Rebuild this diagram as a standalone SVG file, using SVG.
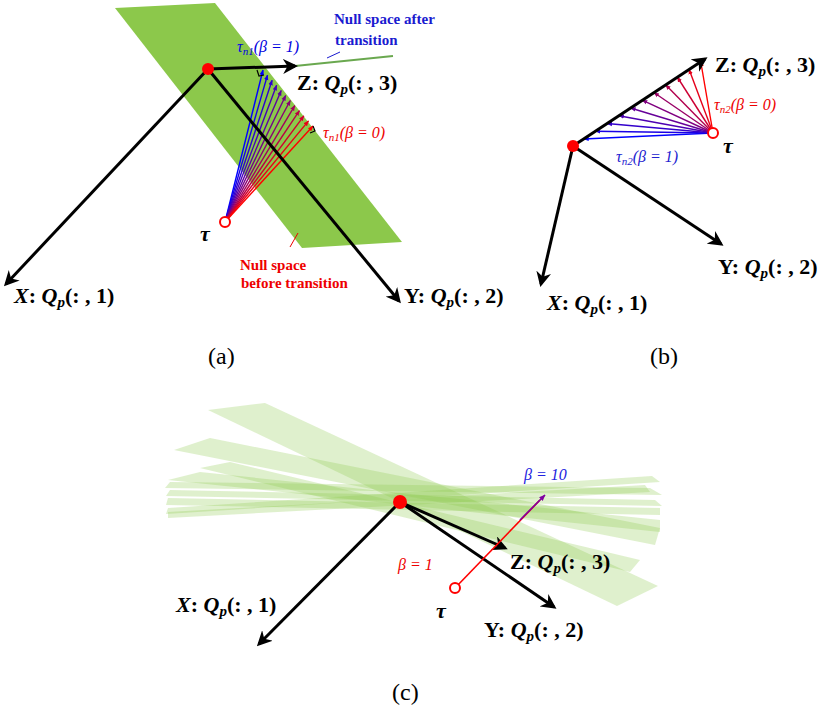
<svg xmlns="http://www.w3.org/2000/svg" width="820" height="712" viewBox="0 0 820 712">
<style>
.ax{stroke:#000;stroke-width:3;fill:none;marker-end:url(#ah)}
.f{stroke-width:1.4;fill:none;marker-end:url(#sh)}
.lb{font-family:"Liberation Serif",serif;font-size:22px;font-weight:bold;fill:#000}
.qi{font-style:italic}
.sm{font-family:"Liberation Serif",serif;font-size:16px;font-style:italic}
.nt{font-family:"Liberation Serif",serif;font-size:15px;font-weight:bold}
.cap{font-family:"Liberation Serif",serif;font-size:24px;fill:#000}
.pl{fill:#8cc84b;fill-opacity:0.28}
</style>
<defs>
<marker id="ah" viewBox="0 0 10 10" refX="8" refY="5" markerWidth="5" markerHeight="5" orient="auto" markerUnits="strokeWidth"><path d="M0,0L10,5L0,10L3,5z" fill="#000"/></marker>
<marker id="sh" viewBox="0 0 10 10" refX="9" refY="5" markerWidth="4" markerHeight="4" orient="auto" markerUnits="strokeWidth"><path d="M0,1L10,5L0,9z" fill="context-stroke"/></marker>
</defs>
<g id="panel-a">
<polygon points="115,8 215,3 402,242 302,248" fill="#8cc84b"/>
<line x1="295" y1="66" x2="393" y2="56" stroke="#6aa84f" stroke-width="2"/>
<g id="fan-a">
<line class="f" x1="225" y1="222" x2="263" y2="70" stroke="#0000ff"/>
<line class="f" x1="225" y1="222" x2="267.5" y2="75.1" stroke="#1700e8"/>
<line class="f" x1="225" y1="222" x2="272.1" y2="80.2" stroke="#2e00d1"/>
<line class="f" x1="225" y1="222" x2="276.6" y2="85.3" stroke="#4500ba"/>
<line class="f" x1="225" y1="222" x2="281.2" y2="90.4" stroke="#5d00a2"/>
<line class="f" x1="225" y1="222" x2="285.7" y2="95.5" stroke="#74008b"/>
<line class="f" x1="225" y1="222" x2="290.3" y2="100.5" stroke="#8b0074"/>
<line class="f" x1="225" y1="222" x2="294.8" y2="105.6" stroke="#a2005d"/>
<line class="f" x1="225" y1="222" x2="299.4" y2="110.7" stroke="#ba0045"/>
<line class="f" x1="225" y1="222" x2="303.9" y2="115.8" stroke="#d1002e"/>
<line class="f" x1="225" y1="222" x2="308.5" y2="120.9" stroke="#e80017"/>
<line class="f" x1="225" y1="222" x2="313" y2="126" stroke="#ff0000"/>
<path d="M257,70 L259,76 L264,75" stroke="#000" stroke-width="1.2" fill="none"/>
<path d="M310,133 L315,131 L313,126" stroke="#000" stroke-width="1.2" fill="none"/>
</g>
<line class="ax" x1="208" y1="69" x2="295" y2="66"/>
<line class="ax" x1="208" y1="69" x2="6" y2="284"/>
<line class="ax" x1="208" y1="69" x2="399" y2="301"/>
<circle cx="208" cy="69" r="6" fill="#f00"/>
<circle cx="225" cy="222" r="5" fill="#fff" stroke="#f00" stroke-width="2"/>
<text class="sm" x="237" y="52" fill="#0000e0">τ<tspan font-size="11" dy="3">n1</tspan><tspan dy="-3">(β = 1)</tspan></text>
<text class="nt" x="334" y="24" fill="#1a1ad0">Null space after</text>
<text class="nt" x="335" y="45" fill="#1a1ad0">transition</text>
<line x1="340" y1="52" x2="327" y2="58" stroke="#1a1ad0" stroke-width="1"/>
<text class="lb" x="297" y="90">Z: <tspan class="qi">Q<tspan font-size="15" dy="4">p</tspan><tspan dy="-4" font-style="normal">(: , 3)</tspan></tspan></text>
<text class="sm" x="323" y="138" fill="#e00">τ<tspan font-size="11" dy="3">n1</tspan><tspan dy="-3">(β = 0)</tspan></text>
<text class="lb qi" x="200" y="241">τ</text>
<text class="nt" x="240" y="270" fill="#e00">Null space</text>
<text class="nt" x="241" y="288" fill="#e00">before transition</text>
<line x1="290" y1="247" x2="298" y2="233" stroke="#e00" stroke-width="1"/>
<text class="lb" x="14" y="303"><tspan class="qi">X</tspan>: <tspan class="qi">Q<tspan font-size="15" dy="4">p</tspan><tspan dy="-4" font-style="normal">(: , 1)</tspan></tspan></text>
<text class="lb" x="404" y="303">Y: <tspan class="qi">Q<tspan font-size="15" dy="4">p</tspan><tspan dy="-4" font-style="normal">(: , 2)</tspan></tspan></text>
<text class="cap" x="208" y="364">(a)</text>
</g>
<g id="panel-b">
<g id="fan-b">
<line class="f" x1="713" y1="133" x2="583.6" y2="139" stroke="#0000ff"/>
<line class="f" x1="713" y1="133" x2="595.3" y2="131.2" stroke="#1a00e5"/>
<line class="f" x1="713" y1="133" x2="607" y2="123.5" stroke="#3300cc"/>
<line class="f" x1="713" y1="133" x2="618.8" y2="115.7" stroke="#4d00b2"/>
<line class="f" x1="713" y1="133" x2="630.5" y2="108" stroke="#660099"/>
<line class="f" x1="713" y1="133" x2="642.2" y2="100.2" stroke="#800080"/>
<line class="f" x1="713" y1="133" x2="653.9" y2="92.5" stroke="#990066"/>
<line class="f" x1="713" y1="133" x2="665.6" y2="84.8" stroke="#b2004d"/>
<line class="f" x1="713" y1="133" x2="677.3" y2="77" stroke="#cc0033"/>
<line class="f" x1="713" y1="133" x2="689" y2="69.3" stroke="#e5001a"/>
<line class="f" x1="713" y1="133" x2="700.7" y2="61.5" stroke="#ff0000"/>
</g>
<line class="ax" x1="573" y1="146" x2="705" y2="59"/>
<line class="ax" x1="573" y1="146" x2="541" y2="284"/>
<line class="ax" x1="573" y1="146" x2="721" y2="244"/>
<circle cx="573" cy="146" r="6" fill="#f00"/>
<circle cx="713" cy="133" r="5" fill="#fff" stroke="#f00" stroke-width="2"/>
<text class="lb" x="715" y="72">Z: <tspan class="qi">Q<tspan font-size="15" dy="4">p</tspan><tspan dy="-4" font-style="normal">(: , 3)</tspan></tspan></text>
<text class="sm" x="714" y="110" fill="#e00">τ<tspan font-size="11" dy="3">n2</tspan><tspan dy="-3">(β = 0)</tspan></text>
<text class="lb qi" x="723" y="153">τ</text>
<text class="sm" x="616" y="162" fill="#2222d0">τ<tspan font-size="11" dy="3">n2</tspan><tspan dy="-3">(β = 1)</tspan></text>
<text class="lb" x="718" y="274">Y: <tspan class="qi">Q<tspan font-size="15" dy="4">p</tspan><tspan dy="-4" font-style="normal">(: , 2)</tspan></tspan></text>
<text class="lb" x="547" y="310"><tspan class="qi">X</tspan>: <tspan class="qi">Q<tspan font-size="15" dy="4">p</tspan><tspan dy="-4" font-style="normal">(: , 1)</tspan></tspan></text>
<text class="cap" x="650" y="364">(b)</text>
</g>
<g id="panel-c">
<g id="planes">
<polygon class="pl" points="208,410 265,403 658,586 617,606"/>
<polygon class="pl" points="174,450 210,438 660,528 655,545"/>
<polygon class="pl" points="200,468 230,462 640,560 630,572"/>
<polygon class="pl" points="168,480 200,472 660,520 660,532"/>
<polygon class="pl" points="165,488 170,482 650,488 662,495"/>
<polygon class="pl" points="166,496 170,490 655,500 662,506"/>
<polygon class="pl" points="166,505 168,498 660,508 660,515"/>
<polygon class="pl" points="166,514 168,508 652,476 660,482"/>
<polygon class="pl" points="168,518 168,512 645,485 650,492"/>
</g>
<line class="ax" x1="400" y1="502" x2="259" y2="644"/>
<line class="ax" x1="400" y1="502" x2="554" y2="607"/>
<line class="ax" x1="400" y1="502" x2="505" y2="548"/>
<line x1="455" y1="588" x2="540" y2="500" stroke="#f00" stroke-width="1.6"/>
<line x1="520" y1="520" x2="545" y2="495" stroke="#8000a0" stroke-width="1.6" marker-end="url(#sh)"/>
<circle cx="400" cy="502" r="7" fill="#f00"/>
<circle cx="455" cy="588" r="5" fill="#fff" stroke="#f00" stroke-width="2"/>
<text class="sm" x="524" y="480" fill="#2222e0">β = 10</text>
<text class="sm" x="398" y="570" fill="#e00">β = 1</text>
<text class="lb" x="510" y="569">Z: <tspan class="qi">Q<tspan font-size="15" dy="4">p</tspan><tspan dy="-4" font-style="normal">(: , 3)</tspan></tspan></text>
<text class="lb qi" x="436" y="618">τ</text>
<text class="lb" x="484" y="637">Y: <tspan class="qi">Q<tspan font-size="15" dy="4">p</tspan><tspan dy="-4" font-style="normal">(: , 2)</tspan></tspan></text>
<text class="lb" x="176" y="612"><tspan class="qi">X</tspan>: <tspan class="qi">Q<tspan font-size="15" dy="4">p</tspan><tspan dy="-4" font-style="normal">(: , 1)</tspan></tspan></text>
<text class="cap" x="392" y="700">(c)</text>
</g>
</svg>
